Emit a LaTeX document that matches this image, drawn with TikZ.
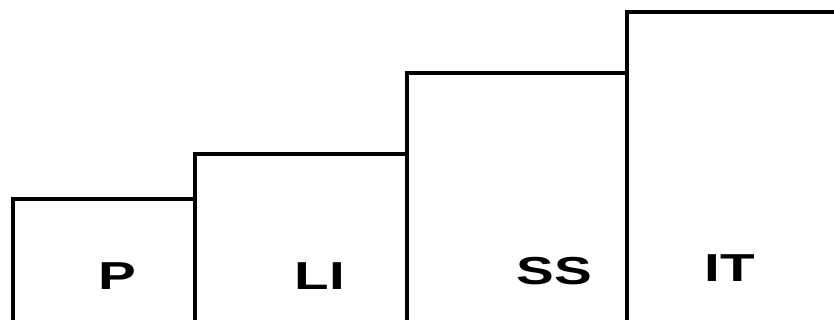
\documentclass[tikz,border=0pt]{standalone}
\usepackage{fontspec}
\setmainfont{Liberation Sans}
\usepackage{tikz}
\usetikzlibrary{positioning}

\begin{document}
\begin{tikzpicture}[
    x=1pt, y=1pt,
    stepwall/.style={line width=3.4pt, draw=black},
    lbl/.style={font=\fontsize{39}{39}\selectfont\bfseries, inner sep=0pt},
  ]
  \useasboundingbox (0,0) rectangle (834,320);

  % ── P ──
  \draw[stepwall] (13,-3) |- (195,121) -- (195,-3);
  \node[lbl] (p) at (117,44) {\scalebox{1.45}[1]{P}};

  % ── LI ──
  \draw[stepwall] (195,-3) |- (407,166) -- (407,-3);
  \node[lbl] (li) at (320,43.5) {\scalebox{1.45}[1]{LI}};

  % ── SS ──
  \draw[stepwall] (407,-3) |- (627,247) -- (627,-3);
  \node[lbl] (ss) at (554,48.5) {\scalebox{1.45}[1]{SS}};

  % ── IT ──
  \draw[stepwall] (627,-3) |- (840,308);
  \node[lbl] (it) at (730,52) {\scalebox{1.45}[1]{IT}};
\end{tikzpicture}
\end{document}
